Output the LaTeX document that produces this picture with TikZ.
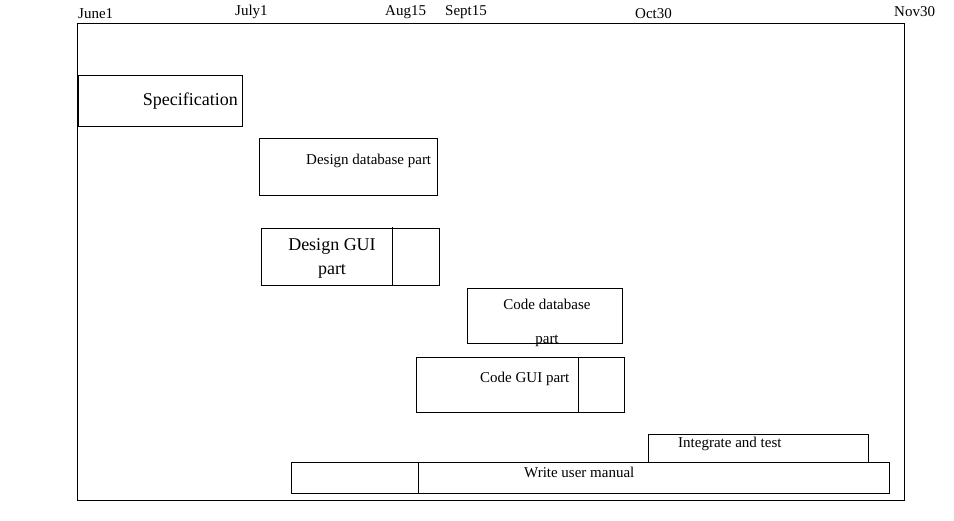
\documentclass[tikz,border=0pt]{standalone}
\usepackage{fontspec}
\setmainfont{Liberation Serif}

\tikzset{
  bar/.style={draw, line width=1pt},
  datelbl/.style={anchor=base west, inner sep=0pt, font=\fontsize{15}{18}\selectfont},
  tasklbl/.style={inner sep=0pt, font=\fontsize{15}{18}\selectfont},
  biglbl/.style={inner sep=0pt, font=\fontsize{18}{22}\selectfont}
}

\begin{document}
\begin{tikzpicture}[x=1pt, y=-1pt]

        \useasboundingbox (0,0) rectangle (954,520);

        % frame
        \draw[bar] (77,23) rectangle (904,500);

        % dates
        \node[datelbl] (june) at (78,18) {June1};
        \node[datelbl] (july) at (235,15) {July1};
        \node[datelbl] (aug) at (385,15) {Aug15};
        \node[datelbl] (sept) at (445,15) {Sept15};
        \node[datelbl] (oct) at (635,18) {Oct30};
        \node[datelbl] (nov) at (894,16) {Nov30};

        % tasks
        \draw[bar] (78,75) rectangle (242,126);
        \node[biglbl, anchor=base east] (spec) at (238,105) {Specification};

        \draw[bar] (259,138) rectangle (437,195);
        \node[tasklbl, anchor=base west] (desdb) at (306,164) {Design database part};

        \draw[bar] (261,228) rectangle (439,285);
        \draw[bar] (392,227) -- (392,285);
        \node[biglbl, anchor=base] (desgui) at (332,250) {Design GUI};
        \node[biglbl, anchor=base] (desguib) at (332,274) {part};

        \draw[bar] (467,288) rectangle (622,343);
        \node[tasklbl, anchor=base] (codedb) at (547,309) {Code database};
        \node[tasklbl, anchor=base] (codedbb) at (547,343) {part};

        \draw[bar] (416,357) rectangle (624,412);
        \draw[bar] (578,357) -- (578,412);
        \node[tasklbl, anchor=base west] (codegui) at (480,382) {Code GUI part};

        \draw[bar] (648,434) rectangle (868,462);
        \node[tasklbl, anchor=base west] (integ) at (678,447) {Integrate and test};

        \draw[bar] (291,462) rectangle (889,493);
        \draw[bar] (418,462) -- (418,493);
        \node[tasklbl, anchor=base west] (manual) at (524,477) {Write user manual};

      \end{tikzpicture}
\end{document}
